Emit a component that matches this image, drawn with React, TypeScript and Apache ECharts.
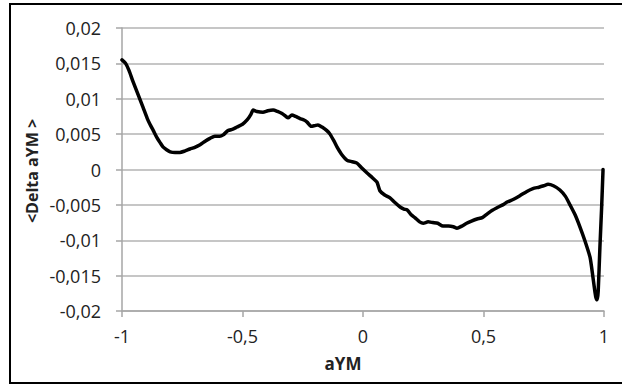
import React, { useEffect, useRef } from "react";
import * as echarts from "echarts";

const xValues: number[] = [
  -1.0, -0.985, -0.971, -0.955, -0.938, -0.913, -0.895, -0.884, -0.87, -0.855,
  -0.842, -0.83, -0.815, -0.8, -0.78, -0.76, -0.74, -0.718, -0.7, -0.676,
  -0.655, -0.635, -0.615, -0.595, -0.58, -0.56, -0.54, -0.523, -0.5, -0.481,
  -0.465, -0.456, -0.44, -0.415, -0.395, -0.373, -0.355, -0.336, -0.32, -0.311,
  -0.295, -0.28, -0.261, -0.245, -0.232, -0.215, -0.2, -0.187, -0.17, -0.15,
  -0.137, -0.12, -0.108, -0.09, -0.066, -0.045, -0.025, -0.005, 0.017, 0.04,
  0.058, 0.07, 0.09, 0.112, 0.13, 0.154, 0.17, 0.183, 0.2, 0.215,
  0.235, 0.25, 0.27, 0.29, 0.31, 0.332, 0.355, 0.375, 0.39, 0.41,
  0.43, 0.45, 0.473, 0.495, 0.515, 0.535, 0.556, 0.58, 0.598, 0.625,
  0.651, 0.68, 0.705, 0.73, 0.75, 0.768, 0.79, 0.817, 0.84, 0.859,
  0.88, 0.9, 0.92, 0.942, 0.954, 0.962, 0.968, 0.972, 0.976, 0.983,
  0.99, 0.996,
];

const deltaValues: number[] = [
  0.0155, 0.015, 0.014, 0.0125, 0.011, 0.0088, 0.0072, 0.0064, 0.0055, 0.0045,
  0.0038, 0.0032, 0.0028, 0.0025, 0.0024, 0.0024, 0.0026, 0.0029, 0.0031, 0.0035,
  0.004, 0.0044, 0.0047, 0.0047, 0.0049, 0.0055, 0.0057, 0.006, 0.0064, 0.007,
  0.0078, 0.0084, 0.0082, 0.0081, 0.0083, 0.0084, 0.0082, 0.0079, 0.0075, 0.0073,
  0.0077, 0.0075, 0.0072, 0.007, 0.0067, 0.0061, 0.0062, 0.0063, 0.006, 0.0055,
  0.005, 0.004, 0.0032, 0.0022, 0.0013, 0.0011, 0.0009, 0.0002, -0.0005, -0.0012,
  -0.0018, -0.003, -0.0036, -0.004, -0.0046, -0.0053, -0.0056, -0.0057, -0.0064, -0.0068,
  -0.0074, -0.0076, -0.0074, -0.0075, -0.0076, -0.008, -0.008, -0.0081, -0.0083, -0.008,
  -0.0076, -0.0073, -0.007, -0.0068, -0.0063, -0.0058, -0.0054, -0.005, -0.0046, -0.0042,
  -0.0037, -0.0031, -0.0027, -0.0025, -0.0023, -0.0021, -0.0023, -0.0029, -0.0038, -0.005,
  -0.0064, -0.0081, -0.01, -0.0124, -0.0152, -0.0172, -0.0184, -0.0184, -0.0172, -0.011,
  -0.0055, 0.0,
];

const xTitle = "aYM";
const yTitle = "<Delta aYM >";

const fmt = (v: number) => String(+v.toFixed(4)).replace(".", ",");

export default function App() {
  const ref = useRef<HTMLDivElement>(null);
  useEffect(() => {
    if (!ref.current) return;
    const chart = echarts.init(ref.current, undefined, { renderer: "svg" });
    const labelFont = {
      fontFamily: "Open Sans",
      fontSize: 18,
      color: "#222",
    };
    chart.setOption({
      animation: false,
      backgroundColor: "#fff",
      grid: { left: 122, right: 18, top: 28, bottom: 74 },
      xAxis: {
        type: "value",
        min: -1,
        max: 1,
        interval: 0.5,
        axisLine: { show: true, onZero: false, lineStyle: { color: "#a6a6a6", width: 1.5 } },
        axisTick: { show: true, inside: false, length: 6, lineStyle: { color: "#a6a6a6", width: 1.5 } },
        splitLine: { show: false },
        axisLabel: { ...labelFont, margin: 16, formatter: fmt },
      },
      yAxis: {
        type: "value",
        min: -0.02,
        max: 0.02,
        interval: 0.005,
        axisLine: { show: true, onZero: false, lineStyle: { color: "#a6a6a6", width: 1.5 } },
        axisTick: { show: true, inside: false, length: 6, lineStyle: { color: "#a6a6a6", width: 1.5 } },
        splitLine: { show: true, lineStyle: { color: "#b3b3b3", width: 1.5 } },
        axisLabel: { ...labelFont, margin: 21, formatter: fmt },
      },
      graphic: [
        {
          type: "rect",
          shape: { x: 10, y: 4, width: 640, height: 379 },
          style: { fill: "none", stroke: "#000", lineWidth: 2 },
          silent: true,
        },
        {
          type: "text",
          x: 343,
          y: 363,
          style: {
            text: xTitle,
            fontFamily: "Open Sans",
            fontWeight: "bold",
            fontSize: 17,
            fill: "#222",
            textAlign: "center",
            textVerticalAlign: "middle",
          },
        },
        {
          type: "text",
          x: 32,
          y: 171,
          rotation: Math.PI / 2,
          style: {
            text: yTitle,
            fontFamily: "Open Sans",
            fontWeight: "bold",
            fontSize: 16,
            fill: "#222",
            textAlign: "center",
            textVerticalAlign: "middle",
          },
        },
      ],
      series: [
        {
          type: "line",
          data: xValues.map((x, i) => [x, deltaValues[i]]),
          showSymbol: false,
          smooth: 0.2,
          lineStyle: { color: "#000", width: 3.5, join: "round", cap: "round" },
        },
      ],
    });
    return () => chart.dispose();
  }, []);
  return (
    <div
      ref={ref}
      style={{ position: "fixed", left: 0, top: 0, width: 622, height: 385 }}
    />
  );
}
